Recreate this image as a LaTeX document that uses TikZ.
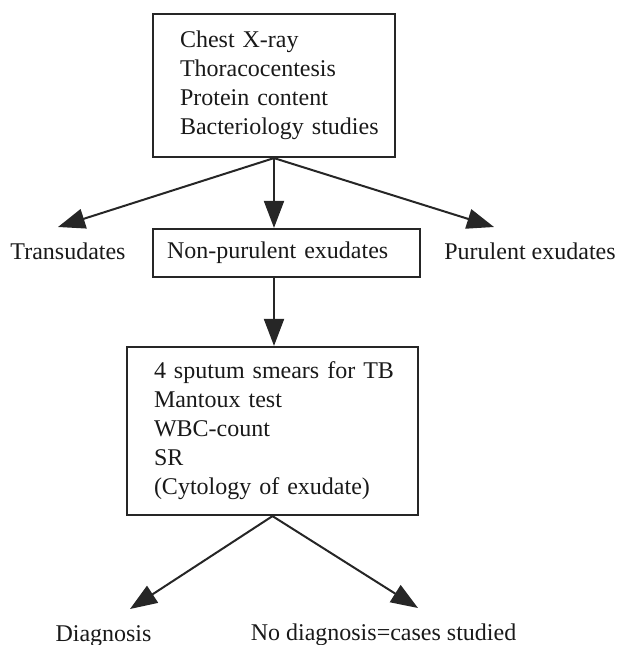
\documentclass[tikz,border=0pt]{standalone}
\usepackage{fontspec}
\setmainfont{Liberation Serif}
\usetikzlibrary{arrows.meta}
\begin{document}
\begin{tikzpicture}[x=1pt,y=-1pt,
  every node/.style={font=\fontsize{24}{29}\selectfont, text=black!90},
  box/.style={draw=black!85, line width=2.2pt, align=left, inner ysep=0pt},
  lbl/.style={anchor=base, inner sep=0pt},
  arr/.style={draw=black!85, line width=2pt, -{Triangle[length=27pt,width=20pt]}}]
\useasboundingbox (0,0) rectangle (617,645);
\node[box, minimum width=242pt, minimum height=143pt, text width=188pt, inner xsep=27pt] (top) at (274,85.5)
  {\mbox{Chest X-ray}\\\mbox{Thoracocentesis}\\\mbox{Protein content}\\\mbox{Bacteriology studies}};
\node[box, minimum width=267pt, minimum height=48pt, text width=239pt, inner xsep=14pt] (mid) at (286.5,253)
  {\mbox{Non-purulent exudates}};
\node[box, minimum width=291pt, minimum height=168pt, text width=237pt, inner xsep=27pt] (bot) at (272.5,431)
  {\mbox{4 sputum smears for TB}\\\mbox{Mantoux test}\\\mbox{WBC-count}\\\mbox{SR}\\\mbox{(Cytology of exudate)}};
\node[lbl] (trans) at (68,259) {Transudates};
\node[lbl] (pur) at (530,259) {Purulent exudates};
\node[lbl] (diag) at (103.5,641) {Diagnosis};
\node[lbl] (nodiag) at (383.5,640) {No diagnosis=cases studied};
\coordinate (tT) at (58,227);
\coordinate (tP) at (494,227);
\coordinate (tD) at (130,609);
\coordinate (tN) at (418,608);
\draw[arr] (top.south) -- (tT);
\draw[arr] (top.south) -- (top.south |- mid.north);
\draw[arr] (top.south) -- (tP);
\draw[arr] (top.south |- mid.south) -- (top.south |- bot.north);
\draw[arr] (bot.south) -- (tD);
\draw[arr] (bot.south) -- (tN);
\end{tikzpicture}
\end{document}
